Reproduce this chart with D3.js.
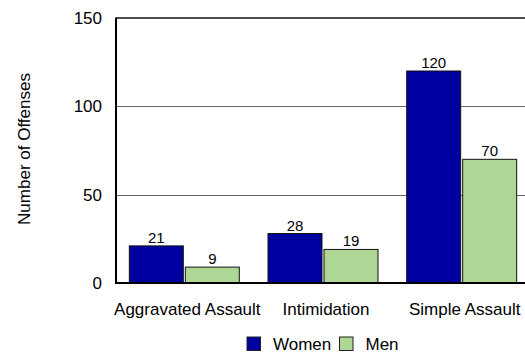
<!DOCTYPE html>
<html>
<head>
<meta charset="utf-8">
<script src="https://cdn.jsdelivr.net/npm/d3@7"></script>
<style>
  html, body { margin: 0; padding: 0; background: #fff; }
  svg { display: block; font-family: "Liberation Sans", Arial, sans-serif; }
</style>
</head>
<body>
<svg id="chart" width="525" height="353"></svg>
<script>
const categories = ["Aggravated Assault", "Intimidation", "Simple Assault"];
const seriesNames = ["Women", "Men"];
const women = [21, 28, 120];
const men = [9, 19, 70];
const yTicks = [0, 50, 100, 150];
const yTitle = "Number of Offenses";
const colors = { Women: "#0000A0", Men: "#AED796" };

(function () {
const svg = d3.select("#chart");
const pLeft = 116, pRight = 530, pTop = 18, pBottom = 283;

const x0 = d3.scaleBand().domain(categories).range([pLeft, pRight]).paddingInner(0.207).paddingOuter(0.096);
const x1 = d3.scaleBand().domain(seriesNames).range([0, x0.bandwidth()]).paddingInner(0.036);
const y = d3.scaleLinear().domain([0, 150]).range([pBottom, pTop]);

const data = categories.map((c, i) => ({ cat: c, values: [{ s: "Women", v: women[i] }, { s: "Men", v: men[i] }] }));

// gridlines
svg.append("g").selectAll("line").data(yTicks.filter(t => t > 0 && t < 150)).join("line")
  .attr("x1", pLeft).attr("x2", 525).attr("y1", d => Math.round(y(d)) + 0.5).attr("y2", d => Math.round(y(d)) + 0.5)
  .attr("stroke", "#666").attr("stroke-width", 1);
// top border
svg.append("line").attr("x1", pLeft).attr("x2", 525).attr("y1", y(150)).attr("y2", y(150))
  .attr("stroke", "#111").attr("stroke-width", 1.5);

// y axis labels via d3 axis
const yAxis = d3.axisLeft(y).tickValues(yTicks).tickSize(0).tickPadding(14);
const ya = svg.append("g").attr("transform", `translate(${pLeft},0)`).call(yAxis);
ya.select(".domain").remove();
ya.selectAll("text").attr("font-size", 17).attr("fill", "#000").attr("font-family", "Liberation Sans, Arial, sans-serif");

// bars
const groups = svg.append("g").selectAll("g").data(data).join("g")
  .attr("transform", d => `translate(${x0(d.cat)},0)`);
groups.selectAll("rect").data(d => d.values).join("rect")
  .attr("x", d => x1(d.s)).attr("width", x1.bandwidth())
  .attr("y", d => y(d.v)).attr("height", d => y(0) - y(d.v))
  .attr("fill", d => colors[d.s]).attr("stroke", "#111").attr("stroke-width", 1);
groups.selectAll("text").data(d => d.values).join("text")
  .attr("x", d => x1(d.s) + x1.bandwidth() / 2).attr("y", d => y(d.v) - 3)
  .attr("text-anchor", "middle").attr("font-size", 15).attr("fill", "#000")
  .text(d => d.v);

// axes lines
svg.append("line").attr("x1", pLeft).attr("x2", pLeft).attr("y1", pTop - 0.5).attr("y2", pBottom + 1)
  .attr("stroke", "#000").attr("stroke-width", 2);
svg.append("line").attr("x1", pLeft - 1).attr("x2", 525).attr("y1", pBottom).attr("y2", pBottom)
  .attr("stroke", "#000").attr("stroke-width", 2);

// x labels
const xAxis = d3.axisBottom(x0).tickSize(0).tickPadding(20);
const xa = svg.append("g").attr("transform", `translate(3,${pBottom})`).call(xAxis);
xa.select(".domain").remove();
xa.selectAll("text").attr("font-size", 17).attr("fill", "#000").attr("font-family", "Liberation Sans, Arial, sans-serif");

// y title
svg.append("text").attr("transform", `translate(30,149) rotate(-90)`)
  .attr("text-anchor", "middle").attr("font-size", 17).attr("fill", "#000").text(yTitle);

// legend
const legendPos = [{ s: "Women", x: 247 }, { s: "Men", x: 339.5 }];
const lg = svg.append("g").selectAll("g").data(legendPos).join("g");
lg.append("rect").attr("x", d => d.x).attr("y", 337).attr("width", 13.5).attr("height", 13.5)
  .attr("fill", d => colors[d.s]).attr("stroke", "#222").attr("stroke-width", 1);
lg.append("text").attr("x", d => d.x + 26).attr("y", 350).attr("font-size", 17).attr("fill", "#000")
  .text(d => d.s);
})();
</script>
</body>
</html>
